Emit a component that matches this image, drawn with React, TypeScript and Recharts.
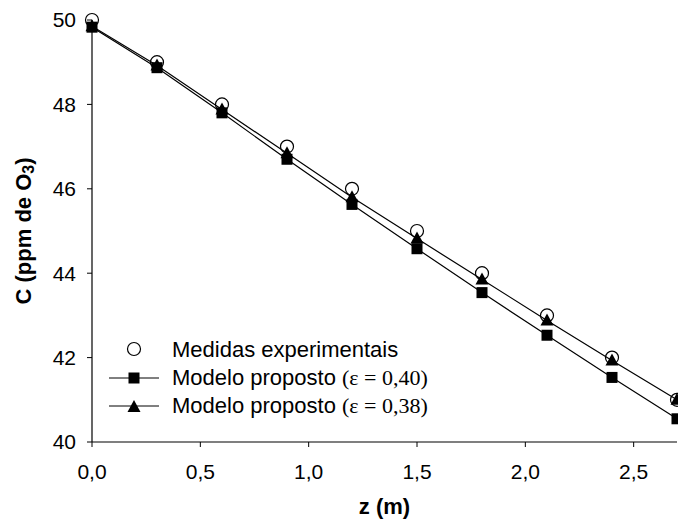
import React from 'react';
import { LineChart, Line, XAxis, YAxis, Legend, Label } from 'recharts';

const zPositions = [0, 0.3, 0.6, 0.9, 1.2, 1.5, 1.8, 2.1, 2.4, 2.7];
const measured = [50, 49, 48, 47, 46, 45, 44, 43, 42, 41];
const model040 = [49.83, 48.87, 47.8, 46.7, 45.63, 44.58, 43.54, 42.53, 41.53, 40.55];
const model038 = [49.85, 48.92, 47.88, 46.84, 45.8, 44.82, 43.85, 42.88, 41.93, 41.0];
const xTicks = [0, 0.5, 1.0, 1.5, 2.0, 2.5];
const yTicks = [40, 42, 44, 46, 48, 50];

const rows = zPositions.map((z, i) => ({
  z,
  medidas: measured[i],
  m40: model040[i],
  m38: model038[i],
}));

const SANS = '"Liberation Sans", Arial, sans-serif';
const SERIF = '"Liberation Serif", "Times New Roman", serif';

const CircleDot = (props: any) => {
  const { cx, cy } = props;
  if (cx == null || cy == null) return null;
  return <circle cx={cx} cy={cy} r={6.5} fill="none" stroke="#000" strokeWidth={1.2} />;
};

const SquareDot = (props: any) => {
  const { cx, cy } = props;
  if (cx == null || cy == null) return null;
  return <rect x={cx - 5.5} y={cy - 5.5} width={11} height={11} fill="#000" />;
};

const TriangleDot = (props: any) => {
  const { cx, cy } = props;
  if (cx == null || cy == null) return null;
  return (
    <polygon
      points={`${cx},${cy - 7} ${cx - 6.5},${cy + 5} ${cx + 6.5},${cy + 5}`}
      fill="#000"
    />
  );
};

const fmt = (v: number) => v.toFixed(1).replace('.', ',');

const LegendBox = () => {
  const row = (symbol: React.ReactNode, text: React.ReactNode) => (
    <div style={{ display: 'flex', alignItems: 'center', height: 28 }}>
      <svg width={52} height={28}>{symbol}</svg>
      <span style={{ marginLeft: 12, fontFamily: SANS, fontSize: 22, whiteSpace: 'nowrap' }}>{text}</span>
    </div>
  );
  return (
    <div>
      {row(<circle cx={26} cy={13} r={6.5} fill="none" stroke="#000" strokeWidth={1.2} />, 'Medidas experimentais')}
      {row(
        <g>
          <line x1={1} y1={14} x2={51} y2={14} stroke="#000" strokeWidth={1} />
          <rect x={20.5} y={8.5} width={11} height={11} fill="#000" />
        </g>,
        <>
          Modelo proposto <span style={{ fontFamily: SERIF }}>(ε = 0,40)</span>
        </>
      )}
      {row(
        <g>
          <line x1={1} y1={14} x2={51} y2={14} stroke="#000" strokeWidth={1} />
          <polygon points="26,8 19.5,20 32.5,20" fill="#000" />
        </g>,
        <>
          Modelo proposto <span style={{ fontFamily: SERIF }}>(ε = 0,38)</span>
        </>
      )}
    </div>
  );
};

const YTitle = (props: any) => {
  const vb = props.viewBox;
  const x = vb.x + 23;
  const y = vb.y + vb.height / 2;
  return (
    <text
      x={x}
      y={y}
      transform={`rotate(-90, ${x}, ${y})`}
      textAnchor="middle"
      dominantBaseline="central"
      fontFamily={SANS}
      fontWeight="bold"
      fontSize={22}
      fill="#000"
    >
      C (ppm de O<tspan dy={5} fontSize={16}>3</tspan>
      <tspan dy={-5}>)</tspan>
    </text>
  );
};

const XTitle = (props: any) => {
  const vb = props.viewBox;
  return (
    <text
      x={vb.x + vb.width / 2}
      y={vb.y + 64}
      textAnchor="middle"
      dominantBaseline="central"
      fontFamily={SANS}
      fontWeight="bold"
      fontSize={22}
      fill="#000"
    >
      z (m)
    </text>
  );
};

export default function App() {
  return (
    <div style={{ position: 'absolute', left: 0, top: 0, background: '#fff' }}>
      <LineChart
        width={678}
        height={519}
        data={rows}
        margin={{ top: 20, right: 1, bottom: 0, left: 0 }}
        style={{ fontFamily: SANS }}
      >
        <XAxis
          dataKey="z"
          type="number"
          domain={[0, 2.7]}
          ticks={xTicks}
          tickFormatter={fmt}
          height={77}
          tickSize={5}
          tickMargin={17}
          axisLine={{ stroke: '#000', strokeWidth: 1.2 }}
          tickLine={{ stroke: '#000', strokeWidth: 1 }}
          tick={{ fill: '#000', fontSize: 21, fontFamily: SANS }}
        >
          <Label content={XTitle} />
        </XAxis>
        <YAxis
          type="number"
          domain={[40, 50]}
          ticks={yTicks}
          width={92}
          tickSize={5}
          tickMargin={11}
          axisLine={{ stroke: '#000', strokeWidth: 1.2 }}
          tickLine={{ stroke: '#000', strokeWidth: 1 }}
          tick={{ fill: '#000', fontSize: 21, fontFamily: SANS }}
        >
          <Label content={YTitle} />
        </YAxis>
        <Legend
          content={LegendBox}
          layout="vertical"
          align="center"
          verticalAlign="middle"
          wrapperStyle={{ position: 'absolute', left: 108, top: 336, width: 'auto', height: 'auto' }}
        />
        <Line
          dataKey="medidas"
          stroke="none"
          dot={CircleDot}
          activeDot={false}
          isAnimationActive={false}
        />
        <Line
          dataKey="m40"
          type="linear"
          stroke="#000"
          strokeWidth={1.2}
          dot={SquareDot}
          activeDot={false}
          isAnimationActive={false}
        />
        <Line
          dataKey="m38"
          type="linear"
          stroke="#000"
          strokeWidth={1.2}
          dot={TriangleDot}
          activeDot={false}
          isAnimationActive={false}
        />
      </LineChart>
    </div>
  );
}
